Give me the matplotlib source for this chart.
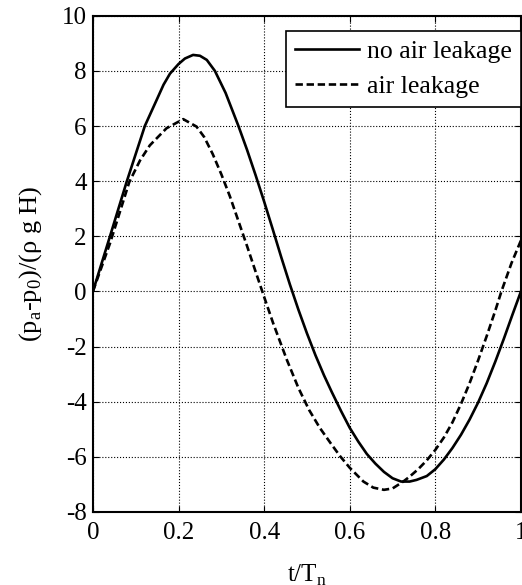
import numpy as np
import matplotlib.pyplot as plt

plt.rcParams['font.family'] = 'Liberation Serif'
plt.rcParams['mathtext.fontset'] = 'custom'
plt.rcParams['mathtext.rm'] = 'Liberation Serif'
plt.rcParams['axes.unicode_minus'] = False
size = 18
plt.rcParams.update({'legend.fontsize': 18.5, 'axes.labelsize': size,
                     'xtick.labelsize': size, 'ytick.labelsize': size})

# no air leakage (solid)
t_solid = [0, 0.0397, 0.0787, 0.1215, 0.149, 0.165, 0.18, 0.2, 0.215, 0.234,
           0.25, 0.266, 0.285, 0.31, 0.34, 0.36, 0.38, 0.4, 0.42, 0.44,
           0.46, 0.48, 0.5, 0.52, 0.54, 0.558, 0.58, 0.6, 0.62, 0.64,
           0.66, 0.68, 0.7, 0.72, 0.74, 0.756, 0.78, 0.8, 0.82, 0.84,
           0.86, 0.88, 0.9, 0.92, 0.94, 0.96, 0.98, 1.0]
p_solid = [0, 1.99, 3.97, 6.01, 6.95, 7.5, 7.9, 8.25, 8.45, 8.58,
           8.55, 8.40, 8.0, 7.2, 6.0, 5.14, 4.22, 3.26, 2.26, 1.24,
           0.26, -0.66, -1.52, -2.32, -3.05, -3.65, -4.35, -4.95, -5.45, -5.9,
           -6.25, -6.55, -6.78, -6.9, -6.9, -6.84, -6.7, -6.45, -6.1, -5.68,
           -5.2, -4.65, -4.03, -3.33, -2.55, -1.72, -0.85, 0]

# air leakage (dashed)
t_dash = [0, 0.04, 0.067, 0.085, 0.11, 0.133, 0.172, 0.211, 0.242, 0.26,
          0.28, 0.3, 0.32, 0.34, 0.36, 0.38, 0.4, 0.421, 0.453, 0.48,
          0.505, 0.53, 0.555, 0.577, 0.6, 0.632, 0.655, 0.68, 0.7, 0.725,
          0.74, 0.76, 0.78, 0.8, 0.82, 0.84, 0.86, 0.88, 0.9, 0.92,
          0.94, 0.955, 0.978, 1.0]
p_dash = [0, 1.75, 3.08, 3.97, 4.75, 5.3, 5.92, 6.25, 5.98, 5.6,
          4.98, 4.25, 3.45, 2.55, 1.65, 0.72, -0.2, -1.15, -2.48, -3.5,
          -4.3, -4.95, -5.5, -5.97, -6.4, -6.9, -7.12, -7.2, -7.15, -6.9,
          -6.72, -6.45, -6.13, -5.75, -5.3, -4.75, -4.08, -3.33, -2.5, -1.62,
          -0.7, 0.03, 1.03, 1.85]

fig = plt.figure(figsize=(5.22, 5.85), dpi=100)
ax = fig.add_axes([0.178, 0.125, 0.820, 0.848])
ax.plot(t_solid, p_solid, 'k-', lw=1.9, label='no air leakage')
ax.plot(t_dash, p_dash, 'k--', lw=1.9, dashes=(2.8, 1.4), label='air leakage')
ax.set_xlim([0, 1])
ax.set_ylim([-8, 10])
ax.set_xticks(np.arange(0, 1.01, 0.2))
ax.set_xticklabels(['0', '0.2', '0.4', '0.6', '0.8', '1'])
ax.set_yticks(np.arange(-8, 10.1, 2))
ax.grid(True, color='k', linestyle=':', linewidth=0.8)
ax.tick_params(direction='in', length=4, top=True, right=True)
ax.tick_params(axis='x', pad=7)
ax.tick_params(axis='y', pad=4.5)
for s in ax.spines.values():
    s.set_linewidth(1.5)
ax.set_xlabel('t/T$_\\mathregular{n}$', labelpad=14)
ax.set_ylabel('(p$_\\mathregular{a}$-p$_\\mathregular{0}$)/(ρ g H)', fontsize=19,
              labelpad=13)
leg = ax.legend(loc='upper right', bbox_to_anchor=(1.0, 0.97), fancybox=False,
                edgecolor='k', framealpha=1, borderaxespad=0, handlelength=2.5,
                handletextpad=0.3, borderpad=0.35, labelspacing=0.5)
leg.get_frame().set_linewidth(1.2)

plt.savefig('out.png', dpi=100)
